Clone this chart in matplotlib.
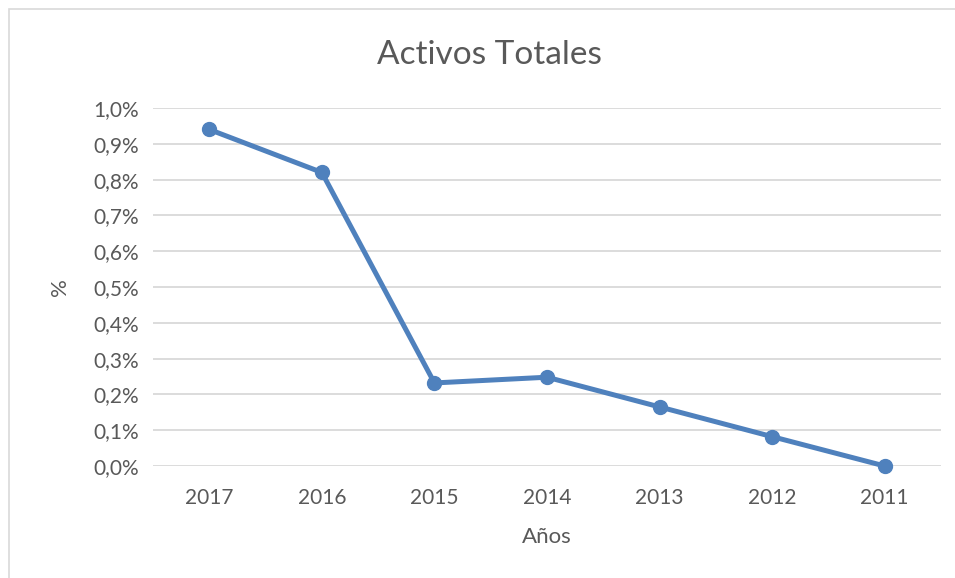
import matplotlib.pyplot as plt
from matplotlib.patches import Rectangle

# data
anios = ["2017", "2016", "2015", "2014", "2013", "2012", "2011"]
activos = [0.94, 0.82, 0.232, 0.248, 0.165, 0.082, 0.0]
yticks = [0.0, 0.1, 0.2, 0.3, 0.4, 0.5, 0.6, 0.7, 0.8, 0.9, 1.0]
ytick_labels = ["0,0%", "0,1%", "0,2%", "0,3%", "0,4%", "0,5%",
                "0,6%", "0,7%", "0,8%", "0,9%", "1,0%"]

plt.rcParams['font.family'] = ['Lato', 'DejaVu Sans']
W, H = 955, 578
fig = plt.figure(figsize=(W / 100, H / 100), dpi=100)

# chart border (excel style)
fig.patches.append(Rectangle((9 / W, -0.05), 1.1, (H - 9) / H + 0.05,
                             transform=fig.transFigure, fill=False,
                             edgecolor="#d9d9d9", linewidth=1.2))

ax = fig.add_axes([153 / W, (H - 466) / H, (941 - 153) / W, (466 - 108) / H])
x = list(range(len(anios)))
ax.plot(x, activos, color="#4f81bd", linewidth=3.6, marker="o",
        markersize=10, solid_capstyle="round", zorder=3, clip_on=False)

ax.set_xlim(-0.5, len(anios) - 0.5)
ax.set_ylim(0, 1.0)
ax.set_xticks(x)
ax.set_xticklabels(anios)
ax.set_yticks(yticks)
ax.set_yticklabels(ytick_labels)
ax.grid(axis="y", color="#d9d9d9", linewidth=1.3)
ax.set_axisbelow(True)
for s in ax.spines.values():
    s.set_visible(False)
ax.tick_params(length=0, labelsize=15, colors="#595959", pad=10)
ax.tick_params(axis="x", pad=16)

fig.text(489 / W, 1 - 55 / H, "Activos Totales", ha="center", va="center",
         fontsize=24, color="#595959")
fig.text(60 / W, 1 - 287 / H, "%", ha="center", va="center", rotation=90,
         fontsize=16, color="#595959")
fig.text(547 / W, 1 - 537 / H, "Años", ha="center", va="center",
         fontsize=16, color="#595959")

fig.savefig("out.png", dpi=100)
